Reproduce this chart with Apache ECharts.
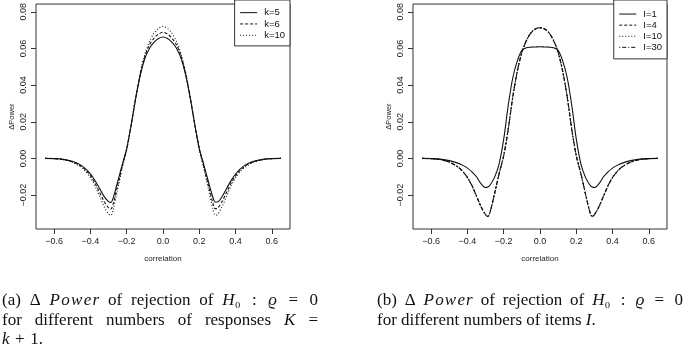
<!DOCTYPE html>
<html>
<head>
<meta charset="utf-8">
<script src="https://cdn.jsdelivr.net/npm/echarts@6/dist/echarts.min.js"></script>
<style>
  html, body { margin: 0; padding: 0; background: #fff; }
  #chart { width: 685px; height: 353px; }
</style>
</head>
<body>
<div id="chart"></div>
<script>
// correlation grid shared by all curves
const corr = [-0.65, -0.6, -0.55, -0.5, -0.45, -0.425, -0.4, -0.375, -0.35, -0.325, -0.3, -0.2875, -0.275, -0.25, -0.225, -0.2, -0.175, -0.15, -0.125, -0.1, -0.075, -0.05, -0.025, 0,
  0.025, 0.05, 0.075, 0.1, 0.125, 0.15, 0.175, 0.2, 0.225, 0.25, 0.275, 0.2875, 0.3, 0.325, 0.35, 0.375, 0.4, 0.425, 0.45, 0.5, 0.55, 0.6, 0.65];

// (a) different numbers of responses
const k5 = [0, -0.0001, -0.0005, -0.0016, -0.0038, -0.0058, -0.0084, -0.0120, -0.0163, -0.0207, -0.0236, -0.0240, -0.0217, -0.0128, -0.0035, 0.0055, 0.0185, 0.0330, 0.0455, 0.0545, 0.0600, 0.0633, 0.0654, 0.0662,
  0.0654, 0.0633, 0.0600, 0.0545, 0.0455, 0.0330, 0.0185, 0.0055, -0.0035, -0.0126, -0.0212, -0.0238, -0.0238, -0.0209, -0.0165, -0.0121, -0.0085, -0.0058, -0.0038, -0.0016, -0.0005, -0.0001, 0];
const k6 = [0, -0.0001, -0.0006, -0.0018, -0.0043, -0.0065, -0.0094, -0.0135, -0.0184, -0.0234, -0.0270, -0.0276, -0.0249, -0.0148, -0.0045, 0.0052, 0.0185, 0.0333, 0.0462, 0.0557, 0.0618, 0.0655, 0.0678, 0.0688,
  0.0678, 0.0655, 0.0618, 0.0557, 0.0462, 0.0333, 0.0185, 0.0052, -0.0045, -0.0146, -0.0244, -0.0274, -0.0272, -0.0236, -0.0186, -0.0136, -0.0095, -0.0065, -0.0043, -0.0018, -0.0006, -0.0001, 0];
const k10 = [0, -0.0001, -0.0007, -0.0021, -0.0049, -0.0073, -0.0105, -0.0150, -0.0205, -0.0262, -0.0304, -0.0311, -0.0281, -0.0168, -0.0055, 0.0048, 0.0185, 0.0335, 0.0468, 0.0568, 0.0637, 0.0682, 0.0709, 0.0720,
  0.0709, 0.0682, 0.0637, 0.0568, 0.0468, 0.0335, 0.0185, 0.0048, -0.0055, -0.0166, -0.0276, -0.0309, -0.0306, -0.0264, -0.0207, -0.0151, -0.0106, -0.0073, -0.0049, -0.0021, -0.0007, -0.0001, 0];

// (b) different numbers of items
const i1 = [0, -0.0001, -0.0004, -0.0012, -0.0027, -0.0038, -0.0053, -0.0073, -0.0100, -0.0138, -0.0159, -0.0156, -0.0145, -0.0102, -0.0028, 0.0105, 0.0290, 0.0440, 0.0532, 0.0590, 0.0604, 0.0607, 0.0608, 0.0609,
  0.0608, 0.0607, 0.0604, 0.0590, 0.0532, 0.0440, 0.0290, 0.0105, -0.0028, -0.0102, -0.0145, -0.0156, -0.0159, -0.0138, -0.0100, -0.0073, -0.0053, -0.0038, -0.0027, -0.0012, -0.0004, -0.0001, 0];
const i4 = [0, -0.0001, -0.0006, -0.0020, -0.0048, -0.0072, -0.0104, -0.0148, -0.0205, -0.0263, -0.0306, -0.0316, -0.0292, -0.0190, -0.0082, 0.0015, 0.0160, 0.0335, 0.0475, 0.0578, 0.0642, 0.0684, 0.0706, 0.0712,
  0.0706, 0.0684, 0.0642, 0.0578, 0.0475, 0.0335, 0.0160, 0.0015, -0.0082, -0.0190, -0.0292, -0.0316, -0.0306, -0.0263, -0.0205, -0.0148, -0.0104, -0.0072, -0.0048, -0.0020, -0.0006, -0.0001, 0];
const i10 = [0, -0.0001, -0.0006, -0.0020, -0.0048, -0.0072, -0.0104, -0.0149, -0.0206, -0.0264, -0.0307, -0.0316, -0.0292, -0.0191, -0.0082, 0.0015, 0.0160, 0.0336, 0.0476, 0.0579, 0.0643, 0.0685, 0.0707, 0.0713,
  0.0707, 0.0685, 0.0643, 0.0579, 0.0476, 0.0336, 0.0160, 0.0015, -0.0082, -0.0191, -0.0292, -0.0316, -0.0307, -0.0264, -0.0206, -0.0149, -0.0104, -0.0072, -0.0048, -0.0020, -0.0006, -0.0001, 0];
const i30 = [0, -0.0001, -0.0006, -0.0020, -0.0048, -0.0072, -0.0104, -0.0149, -0.0206, -0.0264, -0.0307, -0.0317, -0.0293, -0.0191, -0.0082, 0.0015, 0.0160, 0.0336, 0.0476, 0.0579, 0.0643, 0.0685, 0.0707, 0.0713,
  0.0707, 0.0685, 0.0643, 0.0579, 0.0476, 0.0336, 0.0160, 0.0015, -0.0082, -0.0191, -0.0293, -0.0317, -0.0307, -0.0264, -0.0206, -0.0149, -0.0104, -0.0072, -0.0048, -0.0020, -0.0006, -0.0001, 0];

const xTicks = [-0.6, -0.4, -0.2, 0, 0.2, 0.4, 0.6];
const yTicks = [-0.02, 0, 0.02, 0.04, 0.06, 0.08];

// caption lines: {i|..} italic, ' ' word space, '~' thin math space, '^' thick math space
const capA = ['(a) Δ {i|P}~{i|o}~{i|w}~{i|e}~{i|r} of rejection of {i|H}₀^:^{i|ϱ}^=^0', 'for different numbers of responses {i|K} =', '{i|k}^+^1.'];
const capB = ['(b) Δ {i|P}~{i|o}~{i|w}~{i|e}~{i|r} of rejection of {i|H}₀^:^{i|ϱ}^=^0', 'for different numbers of items {i|I}.'];

const SANS = '"Liberation Sans", Arial, sans-serif';
const SERIF = '"Liberation Serif", "DejaVu Serif", serif';
const CAP_SIZE = 17;
const GAP_W = { ' ': 1, '~': 0.15, '^': 1.3 };

const chart = echarts.init(document.getElementById('chart'));

const minus = s => s.replace('-', '\u2212');

function xAxis(i) {
  return {
    gridIndex: i, type: 'value', min: -0.7, max: 0.7,
    name: 'correlation', nameLocation: 'middle', nameGap: 26,
    nameTextStyle: { fontSize: 8, color: '#222', fontFamily: SANS },
    axisLine: { show: false, onZero: false },
    axisTick: { show: true, customValues: xTicks, length: 5, lineStyle: { color: '#333' } },
    axisLabel: { customValues: xTicks, fontSize: 9, margin: 8, color: '#222', fontFamily: SANS,
      formatter: v => minus(v.toFixed(1)) },
    splitLine: { show: false }
  };
}
function yAxis(i) {
  return {
    gridIndex: i, type: 'value', min: -0.0385, max: 0.0842,
    name: 'ΔPower', nameLocation: 'middle', nameGap: 20, nameRotate: 90,
    nameTextStyle: { fontSize: 7.5, color: '#222', fontFamily: SANS },
    axisLine: { show: false, onZero: false },
    axisTick: { show: true, customValues: yTicks, length: 5, lineStyle: { color: '#333' } },
    axisLabel: { customValues: yTicks, fontSize: 9, margin: 8, rotate: 90, color: '#222', fontFamily: SANS,
      formatter: v => minus(v.toFixed(2)) },
    splitLine: { show: false }
  };
}
function line(name, vals, dash, i) {
  return {
    name: name, type: 'line', xAxisIndex: i, yAxisIndex: i,
    data: corr.map((c, j) => [c, vals[j]]),
    symbol: 'none', smooth: 0.3, animation: false, color: '#111',
    lineStyle: { color: '#111', width: 1.1, type: dash }
  };
}
function legend(names, right, pad, lh) {
  return {
    data: names, orient: 'vertical', right: right, top: 0, selectedMode: false,
    backgroundColor: '#fff', borderColor: '#333', borderWidth: 1, borderRadius: 0,
    padding: pad, itemWidth: 17, itemHeight: lh, itemGap: 0,
    itemStyle: { opacity: 0 },
    lineStyle: { width: 1 },
    textStyle: { fontSize: 9.5, lineHeight: lh, color: '#111', fontFamily: SANS, padding: [0, 0, 0, 2] }
  };
}

// caption words laid out with canvas measurements, optionally justified
const ctx = document.createElement('canvas').getContext('2d');
function parts(word) {
  return word.split(/(\{i\|[^}]*\})/).filter(s => s).map(s => {
    const m = s.match(/^\{i\|(.*)\}$/);
    return m ? [m[1], true] : [s, false];
  });
}
function width(word) {
  let w = 0;
  parts(word).forEach(p => {
    ctx.font = (p[1] ? 'italic ' : '') + CAP_SIZE + 'px ' + SERIF;
    w += ctx.measureText(p[0]).width;
  });
  return w;
}
function caption(lines, x0, x1, y0, lh, justifyCount) {
  const out = [];
  lines.forEach((ln, li) => {
    const pieces = ln.split(/([ ~^])/);
    const words = pieces.filter((s, k) => k % 2 === 0);
    const seps = pieces.filter((s, k) => k % 2 === 1).map(s => GAP_W[s]);
    const ws = words.map(width);
    const total = ws.reduce((a, b) => a + b, 0);
    ctx.font = CAP_SIZE + 'px ' + SERIF;
    let unit = ctx.measureText(' ').width;
    const wsum = seps.reduce((a, b) => a + b, 0);
    if (li < justifyCount && wsum > 0) unit = (x1 - x0 - total) / wsum;
    let x = x0;
    words.forEach((w, wi) => {
      out.push({
        type: 'text', x: x, y: y0 + li * lh, silent: true,
        style: {
          text: w, fill: '#111', fontSize: CAP_SIZE, fontFamily: SERIF, verticalAlign: 'middle',
          rich: { i: { fontStyle: 'italic', fontSize: CAP_SIZE, fontFamily: SERIF } }
        }
      });
      x += ws[wi] + (wi < seps.length ? seps[wi] * unit : 0);
    });
  });
  return out;
}

chart.setOption({
  animation: false,
  grid: [
    { left: 36, top: 0, width: 254, height: 229, show: true, borderColor: '#333', borderWidth: 1 },
    { left: 413, top: 0, width: 254, height: 229, show: true, borderColor: '#333', borderWidth: 1 }
  ],
  xAxis: [xAxis(0), xAxis(1)],
  yAxis: [yAxis(0), yAxis(1)],
  legend: [
    legend(['k=5', 'k=6', 'k=10'], 395, [7, 5, 5, 5], 11.3),
    legend(['I=1', 'I=4', 'I=10', 'I=30'], 18, [8.5, 5, 6, 5], 11.1)
  ],
  series: [
    line('k=5', k5, 'solid', 0),
    line('k=6', k6, [3, 2], 0),
    line('k=10', k10, [1, 2], 0),
    line('I=1', i1, 'solid', 1),
    line('I=4', i4, [3, 2], 1),
    line('I=10', i10, [1, 2], 1),
    line('I=30', i30, [1, 2, 4, 2], 1)
  ],
  graphic: caption(capA, 2, 318, 301, 19.5, 2).concat(caption(capB, 377, 683, 301, 19.5, 1))
});
</script>
</body>
</html>
